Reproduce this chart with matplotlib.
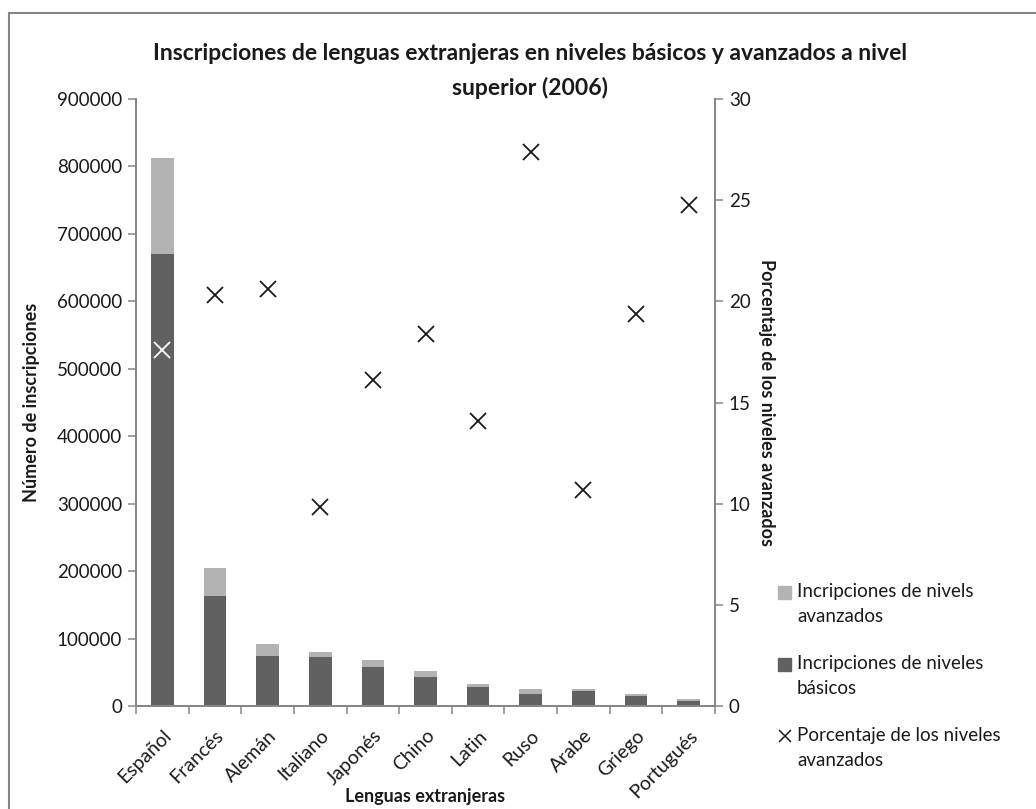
import matplotlib
matplotlib.use("Agg")
import matplotlib.pyplot as plt
from matplotlib.patches import Rectangle
from matplotlib.lines import Line2D
from matplotlib.ticker import FormatStrFormatter, FixedLocator
from matplotlib.transforms import ScaledTranslation

plt.rcParams['font.family'] = ['Lato', 'DejaVu Sans']

# data
lenguas = ['Español', 'Francés', 'Alemán', 'Italiano', 'Japonés', 'Chino',
           'Latin', 'Ruso', 'Arabe', 'Griego', 'Portugués']
basicos = [670000, 163000, 73500, 72700, 57600, 42600, 28200, 18500, 22700, 14400, 7800]
avanzados = [143000, 41500, 19000, 7900, 11100, 9600, 4600, 6900, 2700, 3500, 2600]
porcentaje = [17.6, 20.3, 20.6, 9.85, 16.1, 18.4, 14.1, 27.4, 10.7, 19.35, 24.75]

c_basic = '#616161'
c_adv = '#b3b3b3'
c_axis = '#868686'
c_text = '#1a1a1a'

fig = plt.figure(figsize=(10.36, 8.09), dpi=100)
ax = fig.add_axes([136/1036, 1 - 706/809, (715-136)/1036, (706-99)/809])
ax2 = ax.twinx()

x = list(range(len(lenguas)))
ax.bar(x, basicos, width=0.43, color=c_basic, zorder=2)
ax.bar(x, avanzados, width=0.43, bottom=basicos, color=c_adv, zorder=2)

# marker over the dark bar appears white in the original
mcolors = ['white'] + [c_text] * (len(lenguas) - 1)
for xi, p, mc in zip(x, porcentaje, mcolors):
    ax2.plot(xi, p, marker='x', markersize=11, markeredgewidth=1.3,
             color=mc, linestyle='none', zorder=3)

ax.set_xlim(-0.5, len(lenguas) - 0.5)
ax.set_ylim(0, 900000)
ax2.set_ylim(0, 30)
ax.set_yticks(range(0, 900001, 100000))
ax2.set_yticks(range(0, 31, 5))
ax.yaxis.set_major_formatter(FormatStrFormatter('%d'))

ax.set_xticks(x)
ax.set_xticklabels(lenguas, rotation=45, ha='right', rotation_mode='anchor',
                   fontsize=14, color=c_text)
shift = ScaledTranslation(-19/100, 0, fig.dpi_scale_trans)
for lbl in ax.get_xticklabels():
    lbl.set_transform(lbl.get_transform() + shift)
ax.xaxis.set_minor_locator(FixedLocator([i - 0.5 for i in range(len(lenguas) + 1)]))
ax.tick_params(axis='x', which='major', length=0, pad=15)
ax.tick_params(axis='x', which='minor', length=6, width=1.1, color=c_axis, direction='out')
ax.tick_params(axis='y', length=6, width=1.1, color=c_axis, labelsize=13.5,
               labelcolor=c_text, pad=4)
ax2.tick_params(axis='y', length=6, width=1.1, color=c_axis, labelsize=13.5,
                labelcolor=c_text, pad=4)

for a in (ax, ax2):
    a.spines['top'].set_visible(False)
    for s in ('left', 'right', 'bottom'):
        a.spines[s].set_color(c_axis)
        a.spines[s].set_linewidth(1.3)

ax.set_xlabel('Lenguas extranjeras', fontsize=13, fontweight='bold', color=c_text)
ax.xaxis.set_label_coords(0.5, -0.135)
ax.set_ylabel('Número de inscripciones', fontsize=13, fontweight='bold', color=c_text)
ax.yaxis.set_label_coords(-0.165, 0.5)
ax2.set_ylabel('Porcentaje de los niveles avanzados', fontsize=13, fontweight='bold',
               color=c_text, rotation=270, va='bottom')
ax2.yaxis.set_label_coords(1.075, 0.5)

# title, two lines as in the original
fig.text(530/1036, 1 - 54/809,
         'Inscripciones de lenguas extranjeras en niveles básicos y avanzados a nivel',
         ha='center', va='center', fontsize=16.5, fontweight='bold', color=c_text)
fig.text(530/1036, 1 - 88/809, 'superior (2006)',
         ha='center', va='center', fontsize=16.5, fontweight='bold', color=c_text)

# legend drawn by hand so the key sits on the first text line
leg_labels = [('Incripciones de nivels', 'avanzados'),
              ('Incripciones de niveles', 'básicos'),
              ('Porcentaje de los niveles', 'avanzados')]
leg_keys = [c_adv, c_basic, 'x']
W, H = 1036, 809
for i, ((l1, l2), key) in enumerate(zip(leg_labels, leg_keys)):
    y1 = 592 + 72 * i
    if key == 'x':
        fig.lines.append(Line2D([785/W], [1 - y1/H], marker='x', markersize=9,
                                markeredgewidth=1.1, color=c_text,
                                transform=fig.transFigure))
    else:
        fig.patches.append(Rectangle((778/W, 1 - (y1 + 7)/H), 13/W, 13/H,
                                     transform=fig.transFigure, color=key))
    fig.text(797/W, 1 - y1/H, l1, ha='left', va='center', fontsize=13.5, color=c_text)
    fig.text(797/W, 1 - (y1 + 25)/H, l2, ha='left', va='center', fontsize=13.5,
             color=c_text)

# outer chart frame
fig.patches.append(Rectangle((9/W, -0.01), 1.02 - 9/W, 1 - 13/H + 0.01,
                             transform=fig.transFigure, fill=False,
                             edgecolor=c_axis, linewidth=1.5))

fig.savefig('out.png', dpi=100)
